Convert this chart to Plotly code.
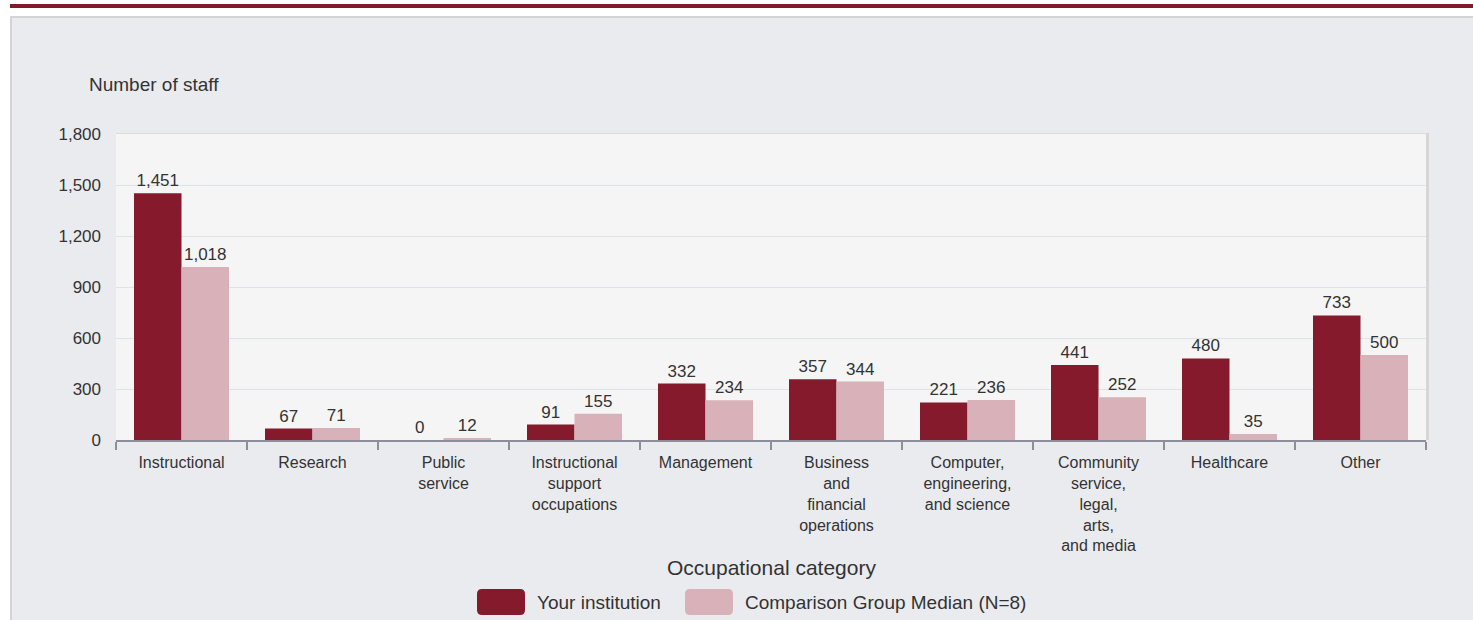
import plotly.graph_objects as go

# Data
categories = [
    "Instructional",
    "Research",
    "Public<br>service",
    "Instructional<br>support<br>occupations",
    "Management",
    "Business<br>and<br>financial<br>operations",
    "Computer,<br>engineering,<br>and science",
    "Community<br>service,<br>legal,<br>arts,<br>and media",
    "Healthcare",
    "Other",
]
your_institution = [1451, 67, 0, 91, 332, 357, 221, 441, 480, 733]
comparison_median = [1018, 71, 12, 155, 234, 344, 236, 252, 35, 500]
series_names = ["Your institution", "Comparison Group Median (N=8)"]
y_ticks = [0, 300, 600, 900, 1200, 1500, 1800]

DARK = "#841a2b"
LIGHT = "#d8b2b8"
PANEL = "#eaebef"
TEXT = "#333333"
FONT = "Liberation Sans, Arial, sans-serif"

W, H = 1473, 620
L, R, T, B = 116, 47, 134, 180
PW, PH = W - L - R, H - T - B


def px_x(x):
    return (x - L) / PW


def px_y(y):
    return (H - B - y) / PH


fig = go.Figure()

for name, vals, color in [
    (series_names[0], your_institution, DARK),
    (series_names[1], comparison_median, LIGHT),
]:
    fig.add_trace(
        go.Bar(
            x=categories,
            y=vals,
            name=name,
            marker=dict(color=color, line=dict(width=0)),
            texttemplate="%{y:,}",
            textposition="outside",
            textfont=dict(size=17, color=TEXT, family=FONT),
            cliponaxis=False,
            showlegend=False,
        )
    )


def box(x0, x1, y0, y1, color, layer="above"):
    # rectangle given in page pixels
    return dict(
        type="rect", xref="paper", yref="paper",
        x0=px_x(x0), x1=px_x(x1), y0=px_y(y0), y1=px_y(y1),
        fillcolor=color, line=dict(width=0), layer=layer,
    )


shapes = [
    # white margin strips, header rule and panel border
    box(0, W, 0, 16, "white"),
    box(0, 10, 0, H, "white"),
    box(10, W, 4, 8, DARK),
    box(10, W, 16, 18, "#d4d4d4"),
    box(10, 12, 16, H, "#d4d4d4"),
    # plot area frame
    box(L, L + PW, T - 1, T, "#dcdcdc"),
    box(L + PW, L + PW + 3, T - 1, T + PH, "#d6d6d6"),
]


def rounded_box(x0, y0, w, h, r, color):
    # pixel sized rounded rectangle anchored at paper position
    path = (
        f"M{r},0 H{w - r} Q{w},0 {w},{r} V{h - r} Q{w},{h} {w - r},{h} "
        f"H{r} Q0,{h} 0,{h - r} V{r} Q0,0 {r},0 Z"
    )
    return dict(
        type="path", path=path, xref="paper", yref="paper",
        xsizemode="pixel", ysizemode="pixel",
        xanchor=px_x(x0), yanchor=px_y(y0 + h),
        fillcolor=color, line=dict(width=0),
    )


shapes.append(rounded_box(477, 589, 48, 26, 5, DARK))
shapes.append(rounded_box(685, 589, 48, 26, 5, LIGHT))


def label(text, x, y, size, anchor="left"):
    return dict(
        text=text, xref="paper", yref="paper", x=px_x(x), y=px_y(y),
        xanchor=anchor, yanchor="middle", showarrow=False,
        font=dict(size=size, color=TEXT, family=FONT),
    )


annotations = [
    label("Number of staff", 87, 85, 19),
    label("Occupational category", L + PW / 2, 567, 21, "center"),
    label(series_names[0], 535, 602, 19),
    label(series_names[1], 743, 602, 19),
]

fig.update_layout(
    width=W,
    height=H,
    margin=dict(l=L, r=R, t=T, b=B, pad=0),
    paper_bgcolor=PANEL,
    plot_bgcolor="#f5f5f5",
    barmode="group",
    bargap=0.275,
    bargroupgap=0,
    font=dict(family=FONT, color=TEXT),
    shapes=shapes,
    annotations=annotations,
    showlegend=False,
)

fig.update_xaxes(
    tickson="boundaries",
    ticks="outside",
    ticklen=8,
    tickwidth=2,
    tickcolor="#8a8f99",
    showline=True,
    linecolor="#8a8f99",
    linewidth=2,
    showgrid=False,
    ticklabelstandoff=7,
    tickfont=dict(size=16, color=TEXT, family=FONT),
    fixedrange=True,
)

fig.update_yaxes(
    range=[0, 1800],
    tickvals=y_ticks,
    tickformat=",",
    showgrid=True,
    gridcolor="#dce3ed",
    gridwidth=1,
    zeroline=False,
    showline=False,
    ticks="",
    ticklabelstandoff=14,
    tickfont=dict(size=17, color=TEXT, family=FONT),
    fixedrange=True,
)

fig.write_html(
    "out.html",
    config={"displayModeBar": False},
    post_script="document.body.style.margin='0';",
)
